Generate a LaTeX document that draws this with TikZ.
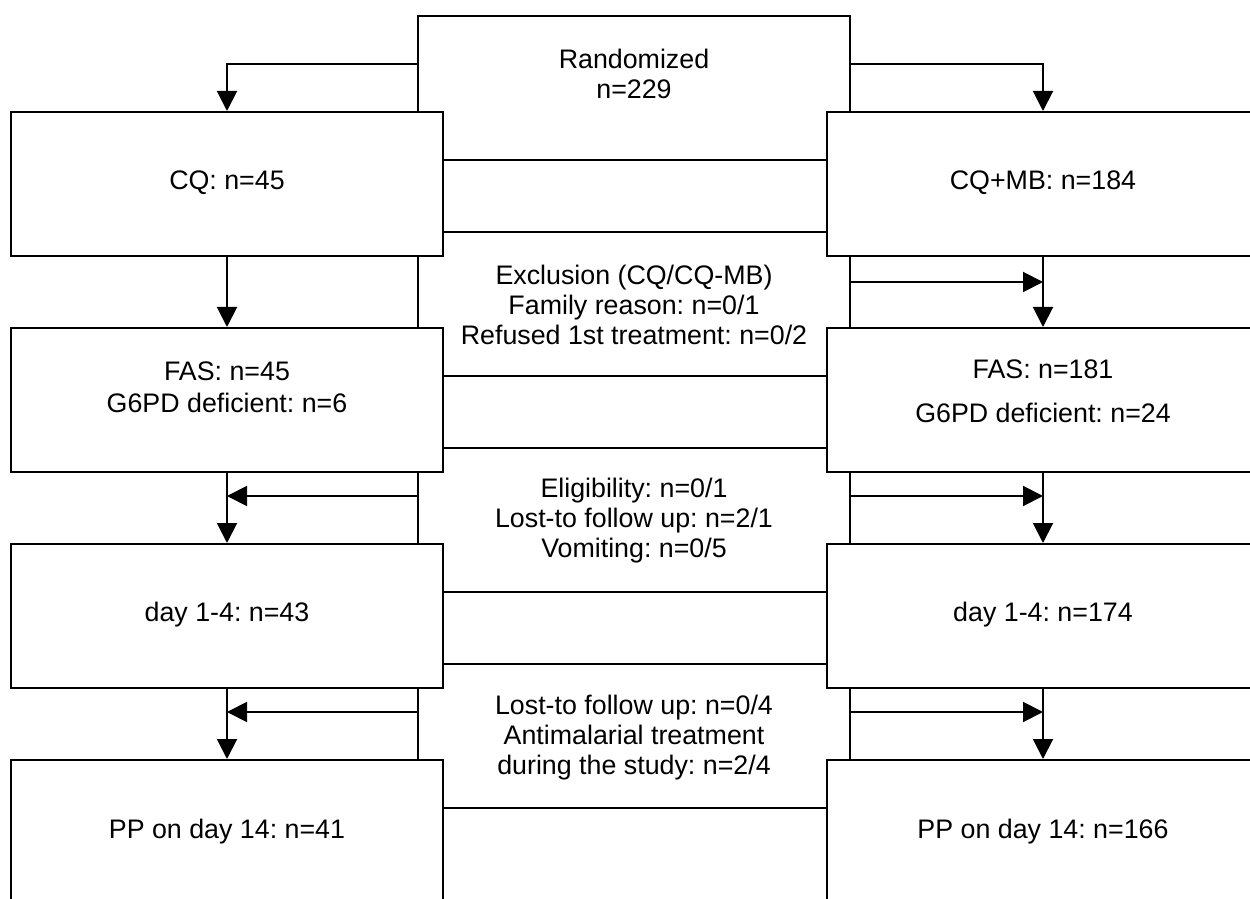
\documentclass[tikz,border=0pt]{standalone}
\usepackage{fontspec}
\setmainfont{Liberation Sans}
\usetikzlibrary{arrows.meta}
\frenchspacing

\begin{document}
\begin{tikzpicture}[x=0.5pt, y=-0.5pt,
    box/.style={draw, fill=white, line width=1pt, minimum width=216pt, minimum height=72pt, inner sep=0pt},
    txt/.style={align=center, inner sep=0pt, font=\fontsize{13.4pt}{15pt}\selectfont},
    arr/.style={line width=1pt, -{Triangle[length=10pt, width=10pt]}}]
    \clip (0, 0) rectangle (1250, 899);

    % 真ん中の箱
    \node[box] (rand) at (634, 88) {};
    \node[box] (excl) at (634, 304) {};
    \node[box] (elig) at (634, 520) {};
    \node[box] (lost) at (634, 736) {};

    % 左右の箱
    \node[box] (cq) at (227, 184) {};
    \node[box] (fasl) at (227, 400) {};
    \node[box] (dayl) at (227, 616) {};
    \node[box] (ppl) at (227, 832) {};
    \node[box] (cqmb) at (1043, 184) {};
    \node[box] (fasr) at (1043, 400) {};
    \node[box] (dayr) at (1043, 616) {};
    \node[box] (ppr) at (1043, 832) {};

    % 線を引く
    \draw[arr] ([yshift=12pt]rand.west) -| (cq.north);
    \draw[arr] ([yshift=12pt]rand.east) -| (cqmb.north);
    \draw[arr] (cq.south) -- (fasl.north);
    \draw[arr] (cqmb.south) -- (fasr.north);
    \draw[arr] (fasl.south) -- (dayl.north);
    \draw[arr] (fasr.south) -- (dayr.north);
    \draw[arr] (dayl.south) -- (ppl.north);
    \draw[arr] (dayr.south) -- (ppr.north);

    \coordinate (exr) at ([yshift=11pt]excl.east);
    \coordinate (ell) at ([yshift=12pt]elig.west);
    \coordinate (elr) at ([yshift=12pt]elig.east);
    \coordinate (lol) at ([yshift=12pt]lost.west);
    \coordinate (lor) at ([yshift=12pt]lost.east);
    \draw[arr] (exr) -- (exr -| fasr.north);
    \draw[arr] (ell) -- (ell -| dayl.north);
    \draw[arr] (elr) -- (elr -| dayr.north);
    \draw[arr] (lol) -- (lol -| ppl.north);
    \draw[arr] (lor) -- (lor -| ppr.north);

    % 文字を入れる
    \node[txt] (trand) at (634, 74) {Randomized\\n=229};
    \node[txt] (texcl) at (634, 305) {Exclusion (CQ/CQ-MB)\\Family reason: n=0/1\\Refused 1st treatment: n=0/2};
    \node[txt] (telig) at (634, 521) {Eligibility: n=0/1\\Lost-to follow up: n=2/1\\Vomiting: n=0/5};
    \node[txt] (tlost) at (634, 738) {Lost-to follow up: n=0/4\\Antimalarial treatment\\during the study: n=2/4};
    \node[txt] (tcq) at (227, 183) {CQ: n=45};
    \node[txt] (tcqmb) at (1043, 183) {CQ+MB: n=184};
    \node[txt] (tfasl) at (227, 387) {FAS: n=45\\[1pt]G6PD deficient: n=6};
    \node[txt] (tfasr) at (1043, 391) {FAS: n=181\\[7pt]G6PD deficient: n=24};
    \node[txt] (tdayl) at (227, 615) {day 1-4: n=43};
    \node[txt] (tdayr) at (1043, 615) {day 1-4: n=174};
    \node[txt] (tppl) at (227, 832) {PP on day 14: n=41};
    \node[txt] (tppr) at (1043, 832) {PP on day 14: n=166};

\end{tikzpicture}
\end{document}
